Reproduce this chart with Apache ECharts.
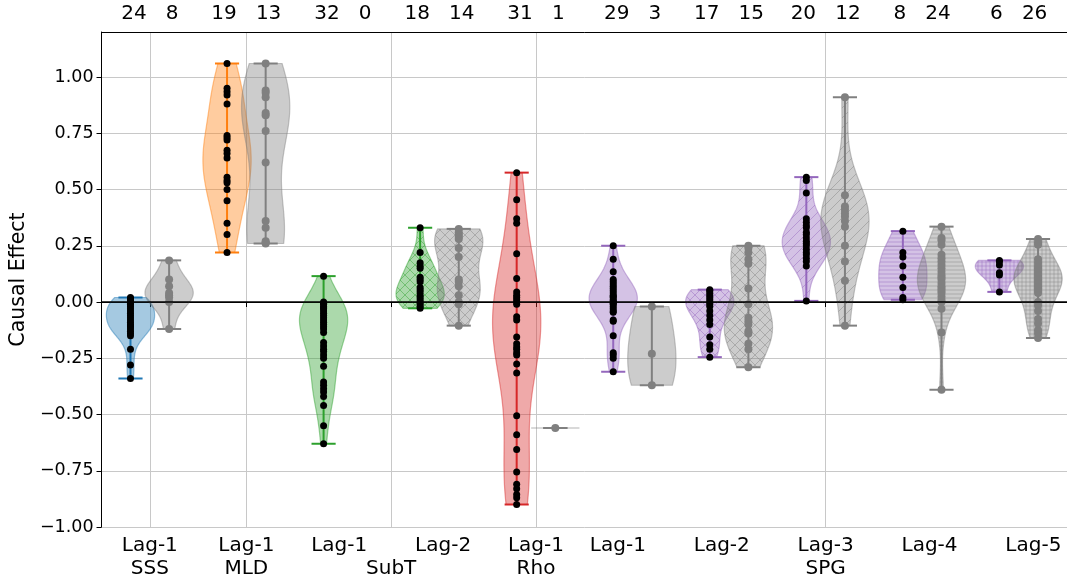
<!DOCTYPE html>
<html>
<head>
<meta charset="utf-8">
<script src="https://cdn.jsdelivr.net/npm/echarts@6/dist/echarts.min.js"></script>
<style>
  html, body { margin: 0; padding: 0; background: #ffffff; }
  #chart { width: 1067px; height: 580px; }
</style>
</head>
<body>
<div id="chart"></div>
<script>
// ---- axis labels ----
const groupTickPos = [1, 2, 3.5, 5, 8];
const GAP = '       \u2006'; // spacing between lag labels sharing one tick
const xTickLabels = [
  'Lag-1\nSSS',
  'Lag-1\nMLD',
  'Lag-1' + GAP + 'Lag-2\nSubT',
  'Lag-1\nRho',
  ['Lag-1', 'Lag-2', 'Lag-3', 'Lag-4', 'Lag-5'].join(GAP) + '\nSPG'
];
const yTicks = [-1, -0.75, -0.5, -0.25, 0, 0.25, 0.5, 0.75, 1];
const violinCenters = [1, 2, 3, 4, 5, 6, 7, 8, 9, 10];
const violinColors = ['#1f77b4', '#ff7f0e', '#2ca02c', '#2ca02c', '#d62728',
                      '#9467bd', '#9467bd', '#9467bd', '#9467bd', '#9467bd'];
const violinHatch = ['', '', '', 'x', '', '', 'x', '/', '-', '+'];
const greyColor = '#808080';

// ---- causal effect estimates (coloured = significant, grey = not) ----
const sssLag1 = [0.02, 0.015, 0.01, 0.0, -0.005, -0.01, -0.02, -0.03, -0.04, -0.05, -0.06, -0.07,
                 -0.08, -0.09, -0.10, -0.105, -0.11, -0.12, -0.13, -0.14, -0.15, -0.21, -0.28, -0.34];
const sssLag1Grey = [0.185, 0.10, 0.07, 0.04, 0.03, 0.02, 0.0, -0.12];

const mldLag1 = [1.06, 0.95, 0.935, 0.92, 0.88, 0.74, 0.73, 0.72, 0.675, 0.66, 0.64, 0.555,
                 0.54, 0.53, 0.50, 0.45, 0.35, 0.30, 0.22];
const mldLag1Grey = [1.06, 0.94, 0.93, 0.91, 0.84, 0.83, 0.76, 0.62, 0.36, 0.33, 0.27, 0.265, 0.26];

const subtLag1 = [0.115, 0.0, -0.005, -0.01, -0.02, -0.025, -0.03, -0.04, -0.05, -0.06, -0.07, -0.08,
                  -0.09, -0.10, -0.11, -0.12, -0.135, -0.18, -0.195, -0.21, -0.22, -0.235, -0.25, -0.285,
                  -0.355, -0.37, -0.385, -0.40, -0.42, -0.46, -0.55, -0.63];
const subtLag1Grey = [];

const subtLag2 = [0.33, 0.22, 0.175, 0.16, 0.15, 0.11, 0.10, 0.09, 0.065, 0.055, 0.045, 0.03,
                  0.02, 0.01, 0.0, -0.01, -0.02, -0.028];
const subtLag2Grey = [0.325, 0.31, 0.30, 0.29, 0.28, 0.24, 0.20, 0.10, 0.09, 0.07, 0.03, 0.0, -0.01, -0.105];

const rhoLag1 = [0.575, 0.455, 0.37, 0.35, 0.215, 0.105, 0.045, 0.03, 0.02, 0.01, 0.0, -0.01,
                 -0.065, -0.08, -0.155, -0.185, -0.20, -0.21, -0.225, -0.235, -0.275, -0.315,
                 -0.505, -0.59, -0.655, -0.755, -0.81, -0.83, -0.855, -0.87, -0.90];
const rhoLag1Grey = [-0.56];

const spgLag1 = [0.25, 0.19, 0.135, 0.10, 0.09, 0.08, 0.07, 0.06, 0.05, 0.04, 0.03, 0.025, 0.02,
                 0.01, 0.005, 0.0, -0.005, -0.01, -0.02, -0.03, -0.04, -0.045, -0.08, -0.085,
                 -0.15, -0.225, -0.235, -0.25, -0.31];
const spgLag1Grey = [-0.02, -0.23, -0.37];

const spgLag2 = [0.055, 0.05, 0.04, 0.03, 0.02, 0.01, 0.0, -0.01, -0.02, -0.04, -0.06, -0.08,
                 -0.10, -0.155, -0.19, -0.21, -0.245];
const spgLag2Grey = [0.25, 0.24, 0.22, 0.19, 0.17, 0.06, -0.01, -0.07, -0.085, -0.10, -0.13, -0.14,
                     -0.185, -0.21, -0.29];

const spgLag3 = [0.555, 0.54, 0.485, 0.37, 0.355, 0.34, 0.33, 0.31, 0.30, 0.285, 0.27, 0.26,
                 0.25, 0.235, 0.22, 0.21, 0.195, 0.18, 0.16, 0.005];
const spgLag3Grey = [0.91, 0.475, 0.425, 0.41, 0.395, 0.38, 0.36, 0.335, 0.25, 0.18, 0.095, -0.105];

const spgLag4 = [0.315, 0.22, 0.20, 0.16, 0.11, 0.065, 0.02, 0.01];
const spgLag4Grey = [0.335, 0.285, 0.275, 0.255, 0.21, 0.195, 0.18, 0.165, 0.15, 0.135, 0.12, 0.11,
                     0.10, 0.085, 0.07, 0.06, 0.05, 0.04, 0.025, 0.01, 0.0, -0.03, -0.135, -0.39];

const spgLag5 = [0.185, 0.18, 0.165, 0.13, 0.12, 0.045];
const spgLag5Grey = [0.28, 0.265, 0.255, 0.19, 0.175, 0.16, 0.15, 0.14, 0.13, 0.12, 0.11, 0.10,
                     0.09, 0.08, 0.07, 0.06, 0.05, 0.04, 0.0, -0.015, -0.04, -0.075, -0.095,
                     -0.125, -0.14, -0.16];

const pairs = [
  [sssLag1, sssLag1Grey], [mldLag1, mldLag1Grey], [subtLag1, subtLag1Grey], [subtLag2, subtLag2Grey],
  [rhoLag1, rhoLag1Grey], [spgLag1, spgLag1Grey], [spgLag2, spgLag2Grey], [spgLag3, spgLag3Grey],
  [spgLag4, spgLag4Grey], [spgLag5, spgLag5Grey]
];

const FONT = 'DejaVu Sans';
const OFFSET = 0.2;      // horizontal shift of each violin from its pair centre
const HALF_WIDTH = 0.25; // maximum half width of a violin body
const CAP_HALF = 0.125;  // half length of the extrema caps

function rgba(hex, a) {
  const n = parseInt(hex.slice(1), 16);
  return 'rgba(' + ((n >> 16) & 255) + ',' + ((n >> 8) & 255) + ',' + (n & 255) + ',' + a + ')';
}

// Gaussian KDE with Scott's bandwidth, evaluated between the sample extrema
function kde(pts, nEval) {
  const n = pts.length;
  const mean = pts.reduce((s, v) => s + v, 0) / n;
  const variance = pts.reduce((s, v) => s + (v - mean) * (v - mean), 0) / (n - 1);
  const bw2 = variance * Math.pow(n, -0.4);
  const lo = Math.min(...pts), hi = Math.max(...pts);
  const ys = [], dens = [];
  for (let i = 0; i < nEval; i++) {
    const y = lo + (hi - lo) * i / (nEval - 1);
    let d = 0;
    for (const p of pts) d += Math.exp(-(y - p) * (y - p) / (2 * bw2));
    ys.push(y); dens.push(d);
  }
  const m = Math.max(...dens);
  return { ys, w: dens.map(d => HALF_WIDTH * d / m) };
}

// hatch tiles
function hatchTile(kind, color) {
  const size = kind === '-' || kind === '+' ? 4 : 10;
  const c = document.createElement('canvas');
  c.width = size; c.height = size;
  const g = c.getContext('2d');
  g.strokeStyle = color;
  g.lineWidth = 1;
  g.beginPath();
  if (kind === '/' || kind === 'x') {
    g.moveTo(-1, size + 1); g.lineTo(size + 1, -1);
    g.moveTo(-size - 1, size + 1); g.lineTo(1, -1);
    g.moveTo(size - 1, size + 1); g.lineTo(2 * size + 1, -1);
  }
  if (kind === 'x') {
    g.moveTo(-1, -1); g.lineTo(size + 1, size + 1);
    g.moveTo(-size - 1, -1); g.lineTo(1, size + 1);
    g.moveTo(size - 1, -1); g.lineTo(2 * size + 1, size + 1);
  }
  if (kind === '-' || kind === '+') {
    g.moveTo(0, size / 2); g.lineTo(size, size / 2);
  }
  if (kind === '+') {
    g.moveTo(size / 2, 0); g.lineTo(size / 2, size);
  }
  g.stroke();
  return c;
}

// one entry per violin body (coloured first, then grey, for each pair)
const violins = [];
pairs.forEach((pair, i) => {
  const hatch = violinHatch[i];
  [0, 1].forEach(k => {
    const pts = pair[k];
    if (!pts.length) return;
    const color = k === 0 ? violinColors[i] : greyColor;
    violins.push({
      pts,
      pos: violinCenters[i] + (k === 0 ? -OFFSET : OFFSET),
      color,
      hatch: hatch ? hatchTile(hatch, rgba(color, 0.45)) : null
    });
  });
});

function renderViolin(params, api) {
  const v = violins[params.dataIndex];
  const children = [];
  const lo = Math.min(...v.pts), hi = Math.max(...v.pts);
  if (v.pts.length >= 2) {
    const { ys, w } = kde(v.pts, 100);
    const right = [], left = [];
    for (let i = 0; i < ys.length; i++) {
      right.push(api.coord([v.pos + w[i], ys[i]]));
      left.push(api.coord([v.pos - w[i], ys[i]]));
    }
    const poly = right.concat(left.reverse());
    children.push({ type: 'polygon', shape: { points: poly },
      style: { fill: rgba(v.color, 0.4), stroke: rgba(v.color, 0.45), lineWidth: 1.2 } });
    if (v.hatch) {
      children.push({ type: 'polygon', shape: { points: poly },
        style: { fill: { image: v.hatch, repeat: 'repeat' }, stroke: null } });
    }
  } else {
    const a = api.coord([v.pos - HALF_WIDTH, lo]), b = api.coord([v.pos + HALF_WIDTH, lo]);
    children.push({ type: 'line', shape: { x1: a[0], y1: a[1], x2: b[0], y2: b[1] },
      style: { stroke: rgba(v.color, 0.4), lineWidth: 1.5 } });
  }
  const top = api.coord([v.pos, hi]), bot = api.coord([v.pos, lo]);
  const capL = api.coord([v.pos - CAP_HALF, hi])[0], capR = api.coord([v.pos + CAP_HALF, hi])[0];
  const lineStyle = { stroke: v.color, lineWidth: 2 };
  children.push({ type: 'line', shape: { x1: top[0], y1: top[1], x2: bot[0], y2: bot[1] }, style: lineStyle });
  children.push({ type: 'line', shape: { x1: capL, y1: top[1], x2: capR, y2: top[1] }, style: lineStyle });
  children.push({ type: 'line', shape: { x1: capL, y1: bot[1], x2: capR, y2: bot[1] }, style: lineStyle });
  return { type: 'group', children };
}

const blackDots = [], greyDots = [];
pairs.forEach((pair, i) => {
  pair[0].forEach(v => blackDots.push([violinCenters[i] - OFFSET, v]));
  pair[1].forEach(v => greyDots.push([violinCenters[i] + OFFSET, v]));
});

function fmtNum(v) {
  const s = Math.abs(v).toFixed(2);
  return (v < 0 ? '\u2212' : '') + s;
}
function lookup(list, labels, value) {
  for (let i = 0; i < list.length; i++) if (Math.abs(list[i] - value) < 1e-6) return labels[i];
  return '';
}
const countLabels = pairs.map(p => p[0].length + '   ' + p[1].length);

const chart = echarts.init(document.getElementById('chart'), null, { renderer: 'canvas' });
const yText = { color: '#000000', fontFamily: FONT, fontSize: 17.5 };
const xText = { color: '#000000', fontFamily: FONT, fontSize: 20 };

chart.setOption({
  animation: false,
  backgroundColor: '#ffffff',
  grid: { left: 101, right: -7, top: 32, bottom: 53, containLabel: false },
  xAxis: [
    {
      type: 'value', min: 0.5, max: 10.5, position: 'bottom',
      axisLine: { show: true, lineStyle: { color: '#000000', width: 1 } },
      axisTick: { show: true, customValues: groupTickPos, length: 5, lineStyle: { color: '#000000', width: 1 } },
      axisLabel: Object.assign({ customValues: groupTickPos, margin: 7, lineHeight: 23,
        formatter: v => lookup(groupTickPos, xTickLabels, v) }, xText),
      splitLine: { show: true, lineStyle: { color: '#c8c8c8', width: 1 } }
    },
    {
      type: 'value', min: 0.5, max: 10.5, position: 'top',
      axisLine: { show: true, onZero: false, lineStyle: { color: '#000000', width: 1 } },
      axisTick: { show: false },
      axisLabel: Object.assign({ customValues: violinCenters, margin: 8,
        formatter: v => lookup(violinCenters, countLabels, v) }, xText),
      splitLine: { show: false }
    }
  ],
  yAxis: {
    type: 'value', min: -1, max: 1.2,
    name: 'Causal Effect', nameLocation: 'middle', nameGap: 61,
    nameTextStyle: { color: '#000000', fontFamily: FONT, fontSize: 20.5 },
    axisLine: { show: true, lineStyle: { color: '#000000', width: 1 } },
    axisTick: { show: true, customValues: yTicks, length: 5, lineStyle: { color: '#000000' } },
    axisLabel: Object.assign({ customValues: yTicks, margin: 8, formatter: v => fmtNum(v) }, yText),
    splitLine: { show: true, lineStyle: { color: '#c8c8c8', width: 1 } }
  },
  series: [
    {
      type: 'custom', name: 'violins', xAxisIndex: 0,
      data: violins.map(v => [v.pos, Math.min(...v.pts), Math.max(...v.pts)]),
      encode: { x: 0, y: [1, 2] },
      renderItem: renderViolin,
      z: 2,
      markLine: {
        silent: true, symbol: ['none', 'none'], label: { show: false },
        lineStyle: { color: '#000000', width: 1.5, type: 'solid' },
        data: [{ yAxis: 0 }]
      }
    },
    {
      type: 'scatter', name: 'significant', xAxisIndex: 0, data: blackDots,
      symbolSize: 7, itemStyle: { color: '#000000', opacity: 1 }, z: 4, silent: true
    },
    {
      type: 'scatter', name: 'not significant', xAxisIndex: 0, data: greyDots,
      symbolSize: 8, itemStyle: { color: greyColor, opacity: 1 }, z: 3, silent: true
    }
  ]
});
</script>
</body>
</html>
